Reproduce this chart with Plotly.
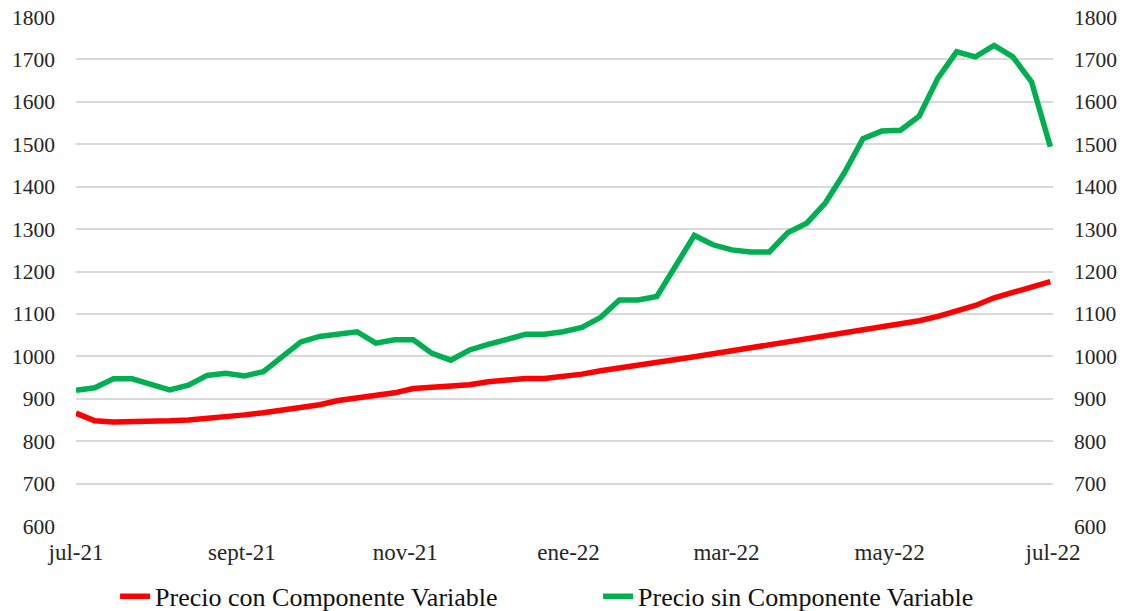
import plotly.graph_objects as go
import datetime as dt

start = dt.date(2021, 7, 1)
n_weeks = 53
dates = [start + dt.timedelta(days=7 * i) for i in range(n_weeks)]

precio_con = [866, 848, 845, 845, 846, 848, 850, 853, 857, 862, 867, 873, 880,
              886, 896, 902, 908, 914, 924, 927, 927, 933, 940, 945, 948, 948,
              952, 958, 966, 972, 978, 985, 993, 999, 1006, 1013, 1020, 1027,
              1033, 1040, 1048, 1055, 1062, 1070, 1077, 1084, 1094, 1108, 1120,
              1138, 1150, 1162, 1176]

precio_sin = [920, 926, 947, 947, 934, 921, 932, 955, 960, 954, 964, 1000, 1034,
              1047, 1053, 1058, 1031, 1039, 1039, 1007, 991, 1015, 1028, 1041,
              1052, 1052, 1058, 1068, 1092, 1133, 1133, 1141, 1212, 1285, 1263,
              1251, 1246, 1246, 1292, 1314, 1362, 1432, 1513, 1531, 1533, 1566,
              1656, 1718, 1706, 1733, 1706, 1647, 1494]

tick_dates = ["2021-07-01", "2021-09-01", "2021-11-01", "2022-01-01",
              "2022-03-01", "2022-05-01", "2022-07-01"]
tick_labels = ["jul-21", "sept-21", "nov-21", "ene-22", "mar-22", "may-22", "jul-22"]
y_ticks = list(range(600, 1801, 100))

font_family = "Liberation Serif"

fig = go.Figure()
fig.add_trace(go.Scatter(x=dates, y=precio_con, mode="lines",
                         name="Precio con Componente Variable",
                         line=dict(color="#ff0000", width=5.5)))
fig.add_trace(go.Scatter(x=dates, y=precio_sin, mode="lines",
                         name="Precio sin Componente Variable",
                         line=dict(color="#00b050", width=5.5), yaxis="y2"))

fig.update_layout(
    width=1128, height=611,
    margin=dict(l=76, r=75, t=17, b=85, autoexpand=False),
    paper_bgcolor="white", plot_bgcolor="white",
    font=dict(family=font_family, size=21.5, color="#262626"),
    showlegend=True,
    legend=dict(orientation="h", x=0.040, xanchor="left", y=-0.092, yanchor="top",
                font=dict(family=font_family, size=26, color="#111111"),
                entrywidth=438, entrywidthmode="pixels",
                itemwidth=30, tracegroupgap=0),
    xaxis=dict(type="date", range=["2021-07-01", "2022-07-01"],
               tickvals=tick_dates, ticktext=tick_labels,
               tickfont=dict(size=23),
               showgrid=False, zeroline=False, showline=False,
               ticks="", ticklabelstandoff=10, automargin=False),
    yaxis=dict(range=[600, 1800], tickvals=y_ticks, showgrid=True,
               gridcolor="#d9d9d9", gridwidth=1.5, zeroline=False,
               showline=False, ticks="", ticklabelstandoff=20, automargin=False,
               ticklabeloverflow="allow"),
    yaxis2=dict(range=[600, 1800], tickvals=y_ticks, overlaying="y", side="right",
                showgrid=False, zeroline=False, showline=False, ticks="",
                ticklabelstandoff=20, automargin=False, ticklabeloverflow="allow"),
)

fig.write_html("out.html", config={"displayModeBar": False},
               post_script="document.body.style.margin='0';")
